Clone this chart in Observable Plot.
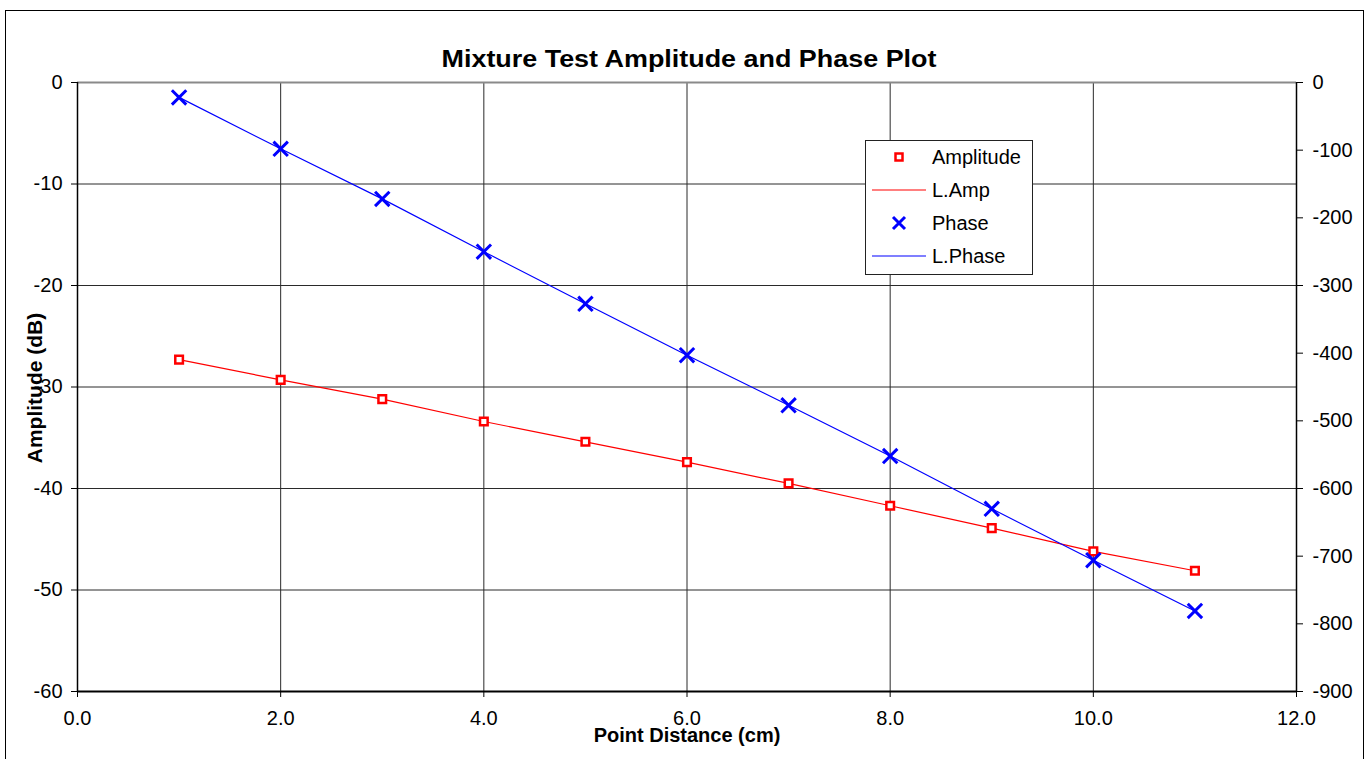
<!DOCTYPE html>
<html>
<head>
<meta charset="utf-8">
<script src="https://cdn.jsdelivr.net/npm/d3@7"></script>
<script src="https://cdn.jsdelivr.net/npm/@observablehq/plot@0.6"></script>
<style>
  html, body { margin: 0; padding: 0; background: #fff; }
  #wrap { position: relative; width: 1370px; height: 759px; overflow: hidden; font-family: "Liberation Sans", Arial, sans-serif; }
  #frame { position: absolute; left: 5px; top: 10px; width: 1359px; height: 760px; border: 1.5px solid #000; box-sizing: border-box; pointer-events: none; }
  .lbl { position: absolute; white-space: nowrap; font-weight: bold; color: #000; }
  #title { left: 689px; top: 59px; font-size: 23px; transform: translate(-50%, -50%) scaleX(1.17); }
  #xlabel { left: 687px; top: 735px; font-size: 20px; transform: translate(-50%, -50%); }
  #ylabel { left: 35px; top: 388px; font-size: 21px; transform: translate(-50%, -50%) rotate(-90deg); }
  #legend { position: absolute; left: 865px; top: 140px; }
  #chart { position: absolute; left: 0; top: 0; }
</style>
</head>
<body>
<div id="wrap">
  <div id="chart"></div>
  <div id="frame"></div>
  <div id="title" class="lbl">Mixture Test Amplitude and Phase Plot</div>
  <div id="xlabel" class="lbl">Point Distance (cm)</div>
  <div id="ylabel" class="lbl">Amplitude (dB)</div>
  <div id="legend"></div>
</div>
<script>
// ---- data ----
const distance = [1, 2, 3, 4, 5, 6, 7, 8, 9, 10, 11];
const amplitude = [-27.3, -29.3, -31.2, -33.4, -35.4, -37.4, -39.5, -41.7, -43.9, -46.2, -48.1];
const phase = [-22, -98, -172, -250, -327, -403, -477, -552, -630, -706, -781];

const xTicks = [0, 2, 4, 6, 8, 10, 12];
const ampTicks = [0, -10, -20, -30, -40, -50, -60];
const phaseTicks = [0, -100, -200, -300, -400, -500, -600, -700, -800, -900];
const legendLabels = ["Amplitude", "L.Amp", "Phase", "L.Phase"];

// phase (deg) shares the plot area with amplitude (dB): -900 deg <-> -60 dB
const phaseToAmp = 60 / 900;

const rows = distance.map((d, i) => ({x: d, amp: amplitude[i], ph: phase[i] * phaseToAmp}));

const RED = "#ff0000", BLUE = "#0000ff";

const plot = Plot.plot({
  width: 1370,
  height: 759,
  marginLeft: 77,
  marginRight: 74,
  marginTop: 82,
  marginBottom: 68,
  style: {fontFamily: "'Liberation Sans', Arial, sans-serif", fontSize: "20px", color: "#000", background: "transparent"},
  x: {domain: [0, 12]},
  y: {domain: [-60, 0]},
  marks: [
    Plot.gridX(xTicks.filter(t => t > 0 && t < 12), {stroke: "#2a2a2a", strokeOpacity: 1, strokeWidth: 1}),
    Plot.gridY(ampTicks.filter(t => t < 0 && t > -60), {stroke: "#2a2a2a", strokeOpacity: 1, strokeWidth: 1}),
    Plot.ruleY([0], {stroke: "#8a8a8a", strokeWidth: 2}),
    Plot.ruleY([-60], {stroke: "#000", strokeWidth: 2}),
    Plot.ruleX([0], {stroke: "#000", strokeWidth: 1.5}),
    Plot.ruleX([12], {stroke: "#000", strokeWidth: 1.5}),
    Plot.axisX({ticks: xTicks, tickFormat: d => d.toFixed(1), tickSize: 6, tickPadding: 13, label: null}),
    Plot.axisY({anchor: "left", ticks: ampTicks, tickFormat: d => String(d), tickSize: 6, tickPadding: 9, label: null}),
    Plot.axisY({anchor: "right", ticks: phaseTicks.map(p => p * phaseToAmp), tickFormat: d => String(Math.round(d / phaseToAmp)), tickSize: 6, tickPadding: 10, label: null}),
    Plot.line(rows, {x: "x", y: "amp", stroke: RED, strokeWidth: 1.2}),
    Plot.line(rows, {x: "x", y: "ph", stroke: BLUE, strokeWidth: 1.2}),
    Plot.dot(rows, {x: "x", y: "amp", symbol: "square", r: 4.3, stroke: RED, strokeWidth: 2.5, fill: "#fff"}),
    Plot.dot(rows, {x: "x", y: "ph", symbol: "times", r: 6.6, stroke: BLUE, strokeWidth: 3})
  ]
});
document.getElementById("chart").appendChild(plot);

// ---- legend ----
const lw = 167, lh = 134;
const leg = d3.select("#legend").append("svg").attr("width", lw + 2).attr("height", lh + 2)
  .style("font-family", "'Liberation Sans', Arial, sans-serif").style("font-size", "20px");
leg.append("rect").attr("x", 0.5).attr("y", 0.5).attr("width", lw).attr("height", lh)
  .attr("fill", "#fff").attr("stroke", "#222").attr("stroke-width", 1);
const rowY = [17, 50, 83, 116];
const symX = 34;
legendLabels.forEach((name, i) => {
  const y = rowY[i];
  if (i === 0) {
    leg.append("rect").attr("x", symX - 3.5).attr("y", y - 3.5).attr("width", 7).attr("height", 7)
      .attr("fill", "#fff").attr("stroke", RED).attr("stroke-width", 2.5);
  } else if (i === 2) {
    leg.append("path").attr("d", `M${symX-6},${y-6}L${symX+6},${y+6}M${symX-6},${y+6}L${symX+6},${y-6}`)
      .attr("stroke", BLUE).attr("stroke-width", 3).attr("fill", "none");
  } else {
    leg.append("line").attr("x1", 7).attr("x2", 61).attr("y1", y).attr("y2", y)
      .attr("stroke", i === 1 ? RED : BLUE).attr("stroke-width", 1.2);
  }
  leg.append("text").attr("x", 67).attr("y", y).attr("dy", "0.35em").text(name);
});
</script>
</body>
</html>
